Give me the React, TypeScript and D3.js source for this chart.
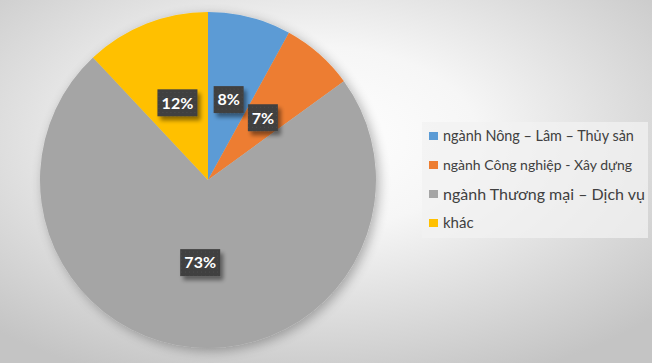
import { useMemo } from "react";
import * as d3 from "d3";

const categories = [
  "ngành Nông – Lâm – Thủy sản",
  "ngành Công nghiệp - Xây dựng",
  "ngành Thương mại – Dịch vụ",
  "khác",
];
const values = [8, 7, 73, 12];
const colors = ["#5b9bd5", "#ed7d31", "#a5a5a5", "#ffc000"];
const legendFontSizes = [14.4, 14, 16, 15];

const W = 652;
const H = 363;
const CX = 208;
const CY = 180;
const R = 168;

interface Slice {
  name: string;
  value: number;
  color: string;
}

export default function App() {
  const slices: Slice[] = categories.map((name, i) => ({
    name,
    value: values[i],
    color: colors[i],
  }));

  const arcs = useMemo(
    () =>
      d3
        .pie<Slice>()
        .value((d) => d.value)
        .sort(null)(slices),
    [],
  );
  const arcGen = d3.arc<d3.PieArcDatum<Slice>>().innerRadius(0).outerRadius(R);
  const labelArc = d3
    .arc<d3.PieArcDatum<Slice>>()
    .innerRadius(0)
    .outerRadius(166);

  const legendY = d3
    .scalePoint<number>()
    .domain([0, 1, 2, 3])
    .range([136, 223]);

  return (
    <svg
      width={W}
      height={H}
      style={{ position: "absolute", left: 0, top: 0, display: "block" }}
      fontFamily="Lato, 'Open Sans', sans-serif"
    >
      <defs>
        <radialGradient id="bg" cx="48%" cy="38%" r="72%">
          <stop offset="0%" stopColor="#ffffff" />
          <stop offset="35%" stopColor="#f6f6f6" />
          <stop offset="100%" stopColor="#c4c4c4" />
        </radialGradient>
        <filter id="pieShadow" x="-20%" y="-20%" width="140%" height="140%">
          <feGaussianBlur in="SourceAlpha" stdDeviation="6" />
          <feOffset dx="3" dy="3" result="b" />
          <feComponentTransfer>
            <feFuncA type="linear" slope="0.3" />
          </feComponentTransfer>
          <feMerge>
            <feMergeNode />
            <feMergeNode in="SourceGraphic" />
          </feMerge>
        </filter>
        <filter id="boxShadow" x="-30%" y="-30%" width="170%" height="170%">
          <feGaussianBlur in="SourceAlpha" stdDeviation="2" />
          <feOffset dx="3" dy="4" result="b" />
          <feComponentTransfer>
            <feFuncA type="linear" slope="0.45" />
          </feComponentTransfer>
          <feMerge>
            <feMergeNode />
            <feMergeNode in="SourceGraphic" />
          </feMerge>
        </filter>
        <pattern id="dots" width="4" height="4" patternUnits="userSpaceOnUse">
          <rect width="4" height="4" fill="#404040" />
          <rect x="1" y="1" width="1" height="1" fill="#4c4c4c" />
        </pattern>
      </defs>

      <rect width={W} height={H} fill="url(#bg)" />

      <g transform={`translate(${CX},${CY})`}>
        <g filter="url(#pieShadow)">
          {arcs.map((a, i) => (
            <path key={i} d={arcGen(a) ?? ""} fill={a.data.color} />
          ))}
        </g>
        {arcs.map((a, i) => {
          const [x, y] = labelArc.centroid(a);
          const txt = `${a.data.value}%`;
          const w = txt.length * 10 + 10;
          const h = 27;
          return (
            <g key={`l${i}`} transform={`translate(${x},${y})`}>
              <rect
                x={-w / 2}
                y={-h / 2}
                width={w}
                height={h}
                fill="url(#dots)"
                filter="url(#boxShadow)"
              />
              <text
                textAnchor="middle"
                dy="0.36em"
                fill="#ffffff"
                fontWeight={700}
                fontSize={16}
              >
                {txt}
              </text>
            </g>
          );
        })}
      </g>

      {/* Legend */}
      <rect x={422} y={122} width={226} height={116} fill="#f2f2f2" opacity={0.75} />
      {slices.map((s, i) => (
        <g key={s.name} transform={`translate(429,${legendY(i)})`}>
          <rect x={0} y={-4} width={9} height={8} fill={s.color} />
          <text
            x={14}
            dy="0.35em"
            fontSize={legendFontSizes[i]}
            fill="#404040"
          >
            {s.name}
          </text>
        </g>
      ))}
    </svg>
  );
}
